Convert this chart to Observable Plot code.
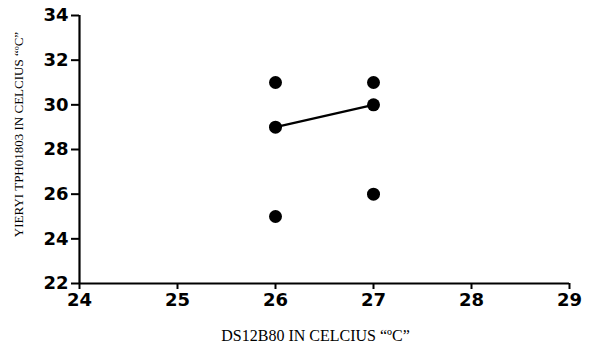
<!DOCTYPE html>
<html>
<head>
<meta charset="utf-8">
<script src="https://cdn.jsdelivr.net/npm/d3@7"></script>
<script src="https://cdn.jsdelivr.net/npm/@observablehq/plot@0.6"></script>
<style>
  html, body { margin: 0; padding: 0; background: #fff; }
  svg { display: block; }
</style>
</head>
<body>
<div id="chart"></div>
<script>
const xValues = [26, 26, 26, 27, 27, 27];
const yValues = [31, 29, 25, 31, 30, 26];
const lineX = [26, 27];
const lineY = [29, 30];
const xTicks = [24, 25, 26, 27, 28, 29];
const yTicks = [22, 24, 26, 28, 30, 32, 34];
const xTitle = "DS12B80 IN CELCIUS “ºC”";
const yTitle = "YIERYI TPH01803 IN CELCIUS “ºC”";

const points = xValues.map((x, i) => ({x, y: yValues[i]}));
const line = lineX.map((x, i) => ({x, y: lineY[i]}));

const chart = Plot.plot({
  width: 590,
  height: 349,
  marginLeft: 79,
  marginRight: 21,
  marginTop: 15,
  marginBottom: 66,
  style: { fontFamily: "DejaVu Sans, sans-serif", background: "#fff", color: "#000" },
  x: { domain: [24, 29], ticks: xTicks, label: null },
  y: { domain: [22, 34], ticks: yTicks, label: null },
  marks: [
    Plot.axisX({ticks: xTicks, tickSize: 6, tickPadding: 4, tickFormat: d => String(d), fontSize: 18, fontWeight: "bold", strokeWidth: 2, label: null}),
    Plot.axisY({ticks: yTicks, tickSize: 8, tickPadding: 3, tickFormat: d => String(d), fontSize: 18, fontWeight: "bold", strokeWidth: 2, label: null}),
    Plot.ruleX([24], {stroke: "#000", strokeWidth: 2.2}),
    Plot.ruleY([22], {stroke: "#000", strokeWidth: 2.2}),
    Plot.line(line, {x: "x", y: "y", stroke: "#000", strokeWidth: 2.2}),
    Plot.dot(points, {x: "x", y: "y", r: 6.5, fill: "#000", stroke: "none"}),
    Plot.text([xTitle], {frameAnchor: "bottom", textAnchor: "middle", lineAnchor: "middle", dy: 52, dx: -9, text: d => d, fontSize: 16, fontFamily: "Liberation Serif, Times New Roman, serif", fill: "#000", style: {letterSpacing: "2px"}}),
    Plot.text([yTitle], {frameAnchor: "left", textAnchor: "middle", lineAnchor: "middle", rotate: -90, dx: -61, dy: -15, text: d => d, fontSize: 13, fontFamily: "Liberation Serif, Times New Roman, serif", fill: "#000"})
  ]
});
document.getElementById("chart").appendChild(chart);
</script>
</body>
</html>
